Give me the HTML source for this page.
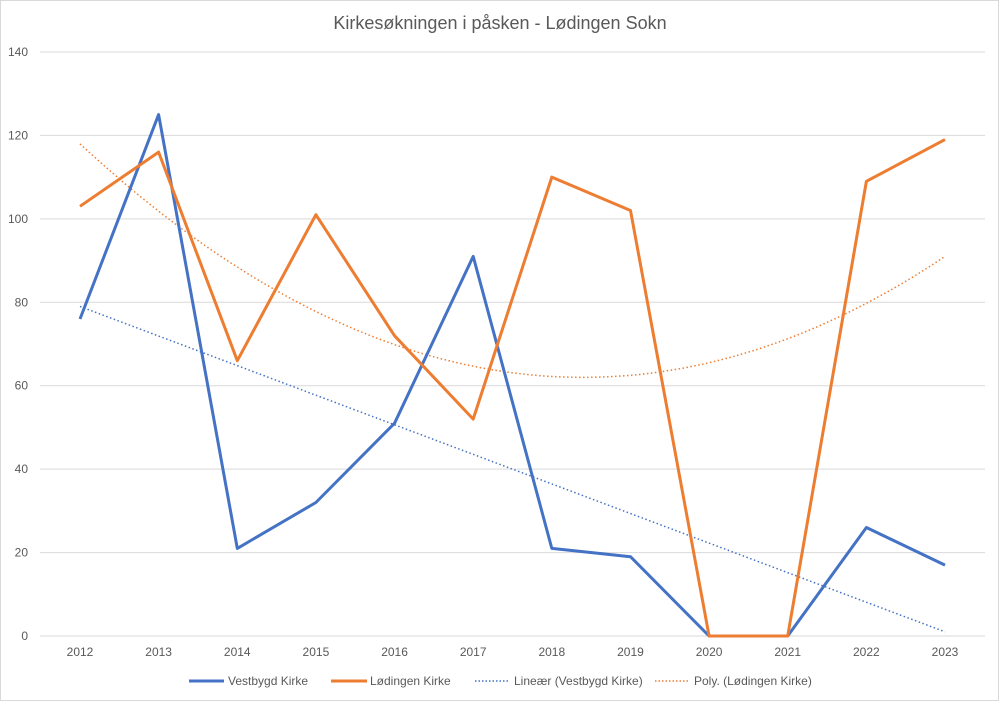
<!DOCTYPE html>
<html><head><meta charset="utf-8"><style>
body{margin:0;background:#fff;width:1000px;height:726px;overflow:hidden}
svg{display:block;font-family:"Liberation Sans",Calibri,sans-serif}
</style></head><body>
<svg id="s" width="1000" height="726" xmlns="http://www.w3.org/2000/svg">
<rect x="0.5" y="0.5" width="998" height="700" fill="#fff" stroke="#d9d9d9"/>
<text x="500" y="29" text-anchor="middle" font-size="18" fill="#595959">Kirkesøkningen i påsken - Lødingen Sokn</text>
<g id="g"></g>
<g font-size="12" fill="#595959">
<line x1="189" y1="681" x2="224" y2="681" stroke="#4472c4" stroke-width="3"/>
<text x="228" y="685">Vestbygd Kirke</text>
<line x1="331" y1="681" x2="367" y2="681" stroke="#ed7d31" stroke-width="3"/>
<text x="370" y="685">Lødingen Kirke</text>
<line x1="475" y1="681" x2="510" y2="681" stroke="#4472c4" stroke-width="1.5" stroke-dasharray="1.5,2"/>
<text x="514" y="685">Lineær (Vestbygd Kirke)</text>
<line x1="655" y1="681" x2="690" y2="681" stroke="#ed7d31" stroke-width="1.5" stroke-dasharray="1.5,2"/>
<text x="694" y="685">Poly. (Lødingen Kirke)</text>
</g>
</svg>
<script>
var g=document.getElementById('g'),h='';
function Y(v){return 636-v*584/140}
function X(i){return 80+i*865/11}
for(var v=0;v<=140;v+=20){var y=Y(v);h+='<line x1="40" x2="985" y1="'+y+'" y2="'+y+'" stroke="#d9d9d9"/>';
h+='<text x="28" y="'+(y+4)+'" text-anchor="end" font-size="12" fill="#595959">'+v+'</text>';}
for(var i=0;i<12;i++)h+='<text x="'+X(i)+'" y="656" text-anchor="middle" font-size="12" fill="#595959">'+(2012+i)+'</text>';
var b=[76,125,21,32,51,91,21,19,0,0,26,17],o=[103,116,66,101,72,52,110,102,0,0,109,119];
function p(a){return a.map(function(v,i){return X(i).toFixed(1)+','+Y(v).toFixed(1)}).join(' ')}
var pl='',ln='';
for(var t=0;t<=11;t+=0.1){pl+=X(t).toFixed(1)+','+Y(1.368*(t-6.397)*(t-6.397)+62).toFixed(1)+' ';}
h+='<polyline points="'+pl+'" fill="none" stroke="#ed7d31" stroke-width="1.5" stroke-dasharray="1.5,2.5"/>';
h+='<line x1="'+X(0)+'" y1="'+Y(79)+'" x2="'+X(11)+'" y2="'+Y(1)+'" stroke="#4472c4" stroke-width="1.5" stroke-dasharray="1.5,2.5"/>';
h+='<polyline points="'+p(b)+'" fill="none" stroke="#4472c4" stroke-width="3" stroke-linejoin="round"/>';
h+='<polyline points="'+p(o)+'" fill="none" stroke="#ed7d31" stroke-width="3" stroke-linejoin="round"/>';
g.innerHTML=h;
</script>
</body></html>
